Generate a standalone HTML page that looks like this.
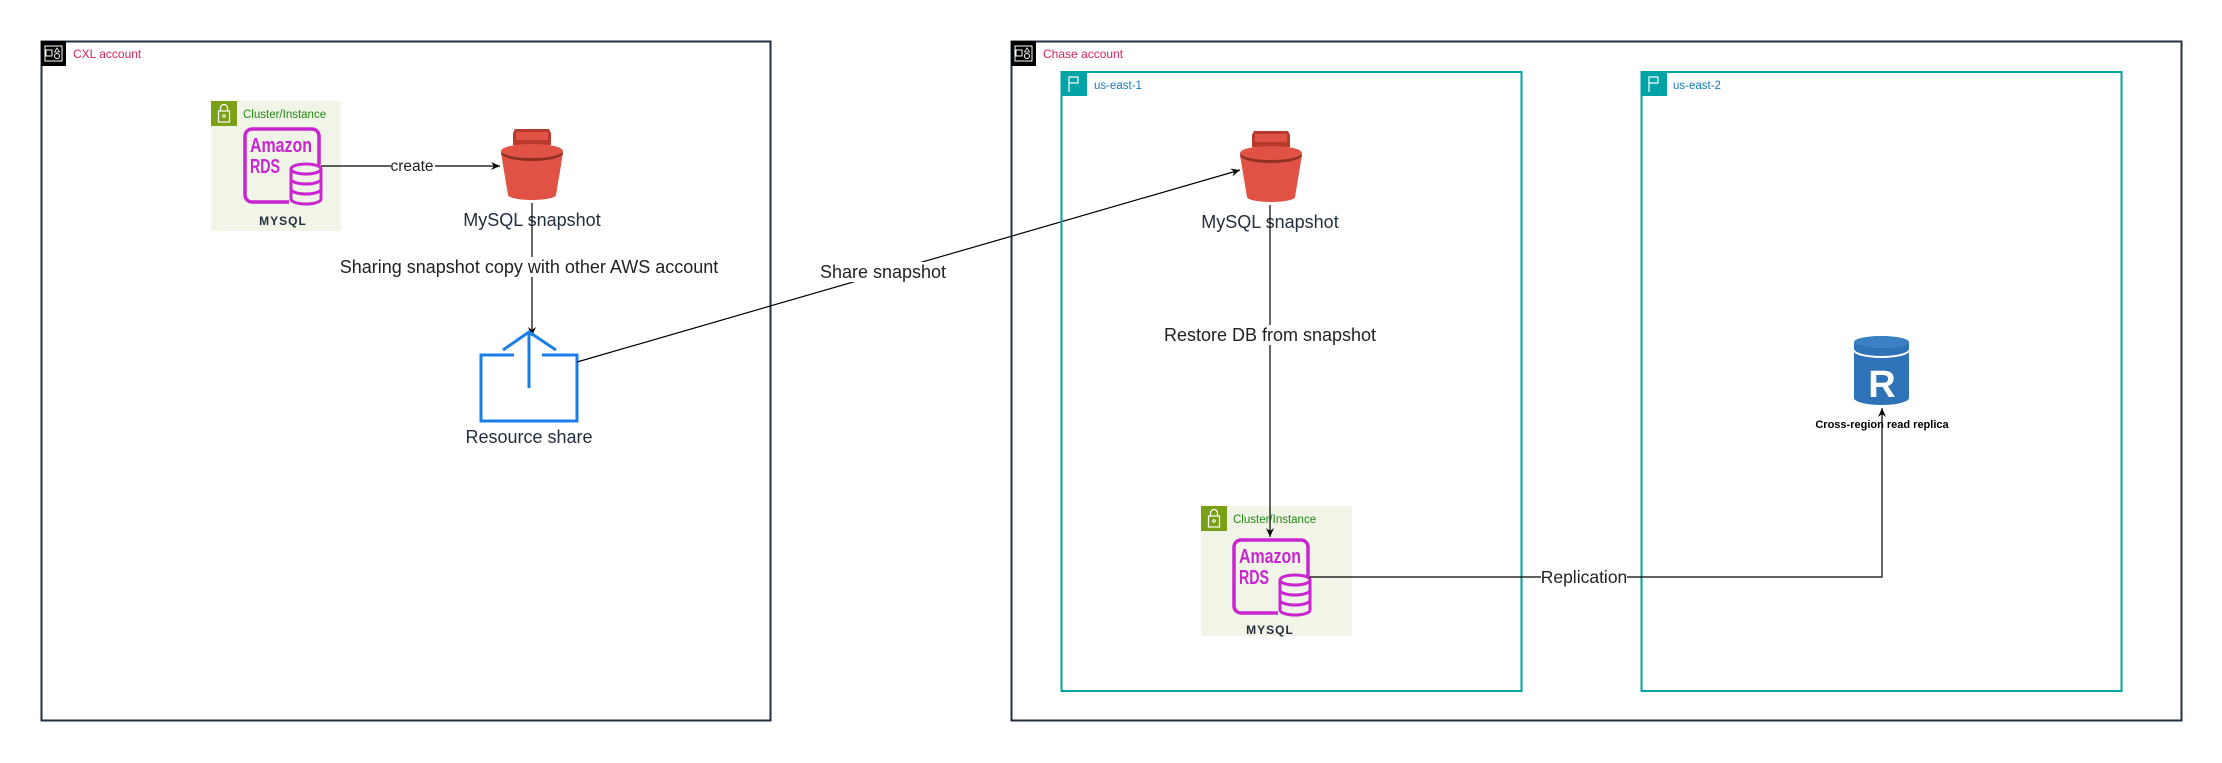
<!DOCTYPE html>
<html><head><meta charset="utf-8"><style>
html,body{margin:0;padding:0;background:#fff;}
svg{display:block;}
text{font-family:"Liberation Sans",sans-serif;}
</style></head><body>
<svg width="2222" height="763" viewBox="0 0 2222 763" xmlns="http://www.w3.org/2000/svg">
<defs>
<marker id="ar" markerWidth="10" markerHeight="10" refX="9" refY="5" orient="auto" markerUnits="userSpaceOnUse">
<path d="M0,1 L9,5 L0,9 L3,5 Z" fill="#000"/>
</marker>
<g id="rds">
<rect x="2" y="2" width="74" height="73" rx="7" fill="none" stroke="#C925D1" stroke-width="3.5"/>
<text x="7" y="25" font-size="20" font-weight="bold" fill="#C925D1" textLength="62" lengthAdjust="spacingAndGlyphs">Amazon</text>
<text x="7" y="46" font-size="20" font-weight="bold" fill="#C925D1" textLength="30" lengthAdjust="spacingAndGlyphs">RDS</text>
<rect x="46" y="38" width="34" height="40" fill="#f1f5e7"/>
<path d="M48,42 v30 a15,5 0 0 0 30,0 v-30" fill="#f1f5e7" stroke="#C925D1" stroke-width="3"/>
<ellipse cx="63" cy="42" rx="15" ry="5" fill="#f1f5e7" stroke="#C925D1" stroke-width="3"/>
<path d="M48,52 a15,5 0 0 0 30,0 M48,62 a15,5 0 0 0 30,0" fill="none" stroke="#C925D1" stroke-width="3"/>
</g>
<g id="bucket">
<path d="M14,0 h34 l2,4 v12 h-38 v-12 z" fill="#b83a2c"/>
<path d="M15,3 h32 v8 h-32 z" fill="#e05243"/>
<path d="M0,24 L7,66 a24,5 0 0 0 48,0 L62,24 z" fill="#e05243"/>
<ellipse cx="31" cy="24" rx="31" ry="8" fill="#8c3123"/>
<ellipse cx="31" cy="22" rx="31" ry="7" fill="#e05243"/>
</g>
<g id="lock">
<rect width="26" height="25" fill="#7aa116"/>
<rect x="7.5" y="10" width="11" height="11" fill="none" stroke="#fff" stroke-width="1.2"/>
<path d="M9.5,10 v-3 a3.5,3.5 0 0 1 7,0 v3" fill="none" stroke="#fff" stroke-width="1.2"/>
<circle cx="13" cy="15" r="1.3" fill="none" stroke="#fff"/>
</g>
<g id="acct">
<rect width="25" height="25" fill="#000"/>
<rect x="5" y="9" width="6" height="6" fill="none" stroke="#fff" stroke-width="1"/>
<rect x="4" y="5" width="17" height="15" fill="none" stroke="#fff" stroke-width="1"/>
<circle cx="16" cy="15" r="2.5" fill="none" stroke="#fff"/>
<path d="M13.5,11 l2.5,-4 l2.5,4 z" fill="none" stroke="#fff" stroke-width="0.8"/>
</g>
<g id="flag">
<rect width="26" height="24" fill="#00a4a6"/>
<path d="M8,20 V5 h9 v6 h-9" fill="none" stroke="#fff" stroke-width="1.2"/>
</g>
</defs>

<!-- CXL account -->
<rect x="41.5" y="41.5" width="729" height="679" fill="none" stroke="#232f3e" stroke-width="2"/>
<use href="#acct" x="41" y="41"/>
<text x="73" y="58" font-size="12" fill="#d6245e">CXL account</text>

<rect x="211" y="101" width="130" height="130" fill="#f1f5e7"/>
<use href="#lock" x="211" y="101"/>
<text x="243" y="118" font-size="11.5" fill="#248814">Cluster/Instance</text>
<use href="#rds" x="243" y="127"/>
<text x="283" y="225" font-size="12" font-weight="bold" fill="#232f3e" text-anchor="middle" letter-spacing="1">MYSQL</text>

<use href="#bucket" x="501" y="129"/>
<text x="532" y="226" font-size="18" fill="#232f3e" text-anchor="middle">MySQL snapshot</text>

<line x1="321" y1="166" x2="500" y2="166" stroke="#000" stroke-width="1.2" marker-end="url(#ar)"/>
<rect x="391" y="158" width="44" height="16" fill="#fff"/>
<text x="412" y="171" font-size="15.5" fill="#222" text-anchor="middle">create</text>

<line x1="532" y1="203" x2="532" y2="336" stroke="#000" stroke-width="1.2" marker-end="url(#ar)"/>
<rect x="340" y="257" width="378" height="20" fill="#fff"/>
<text x="529" y="273" font-size="18" fill="#222" text-anchor="middle">Sharing snapshot copy with other AWS account</text>

<!-- resource share -->
<path d="M514,355 H481 V421 H577 V355 H542" fill="none" stroke="#1a7fe6" stroke-width="3"/>
<path d="M529,388 V332 M503,350 L529,332 L556,350" fill="none" stroke="#1a7fe6" stroke-width="3"/>
<text x="529" y="443" font-size="18" fill="#232f3e" text-anchor="middle">Resource share</text>

<!-- share line -->
<line x1="577" y1="362" x2="1240" y2="170" stroke="#000" stroke-width="1.2" marker-end="url(#ar)"/>
<rect x="820" y="262" width="126" height="20" fill="#fff"/>
<text x="883" y="278" font-size="18" fill="#222" text-anchor="middle">Share snapshot</text>

<!-- Chase account -->
<rect x="1011.5" y="41.5" width="1170" height="679" fill="none" stroke="#232f3e" stroke-width="2"/>
<use href="#acct" x="1011" y="41"/>
<text x="1043" y="58" font-size="12" fill="#d6245e">Chase account</text>

<rect x="1061.5" y="72" width="460" height="619" fill="none" stroke="#00a4a6" stroke-width="2"/>
<use href="#flag" x="1061" y="72"/>
<text x="1094" y="89" font-size="11.5" fill="#147eba">us-east-1</text>

<rect x="1641.5" y="72" width="480" height="619" fill="none" stroke="#00a4a6" stroke-width="2"/>
<use href="#flag" x="1641" y="72"/>
<text x="1673" y="89" font-size="11.5" fill="#147eba">us-east-2</text>

<use href="#bucket" x="1240" y="131"/>
<text x="1270" y="228" font-size="18" fill="#232f3e" text-anchor="middle">MySQL snapshot</text>

<rect x="1201" y="506" width="151" height="130" fill="#f1f5e7"/>
<use href="#lock" x="1201" y="506"/>
<text x="1233" y="523" font-size="11.5" fill="#248814">Cluster/Instance</text>
<use href="#rds" x="1232" y="538"/>
<text x="1270" y="634" font-size="12" font-weight="bold" fill="#232f3e" text-anchor="middle" letter-spacing="1">MYSQL</text>

<line x1="1270" y1="205" x2="1270" y2="537" stroke="#000" stroke-width="1.2" marker-end="url(#ar)"/>
<rect x="1166" y="325" width="208" height="20" fill="#fff"/>
<text x="1270" y="341" font-size="18" fill="#222" text-anchor="middle">Restore DB from snapshot</text>

<!-- R replica -->
<path d="M1854,344 V398 a27.5,7 0 0 0 55,0 V344 z" fill="#2e73b8"/>
<ellipse cx="1881.5" cy="344" rx="27.5" ry="8" fill="#2e73b8"/>
<path d="M1854,350 a27.5,7 0 0 0 55,0" fill="none" stroke="#fff" stroke-width="2"/>
<ellipse cx="1881.5" cy="342" rx="27.5" ry="6" fill="#3b7fc4"/>
<text x="1882" y="397" font-size="38" font-weight="bold" fill="#fff" text-anchor="middle">R</text>
<text x="1882" y="428" font-size="11" font-weight="bold" fill="#000" text-anchor="middle">Cross-region read replica</text>

<polyline points="1309,577 1882,577 1882,408" fill="none" stroke="#000" stroke-width="1.2" marker-end="url(#ar)"/>
<rect x="1541" y="568" width="86" height="18" fill="#fff"/>
<text x="1584" y="583" font-size="17.5" fill="#222" text-anchor="middle">Replication</text>
</svg>
</body></html>
